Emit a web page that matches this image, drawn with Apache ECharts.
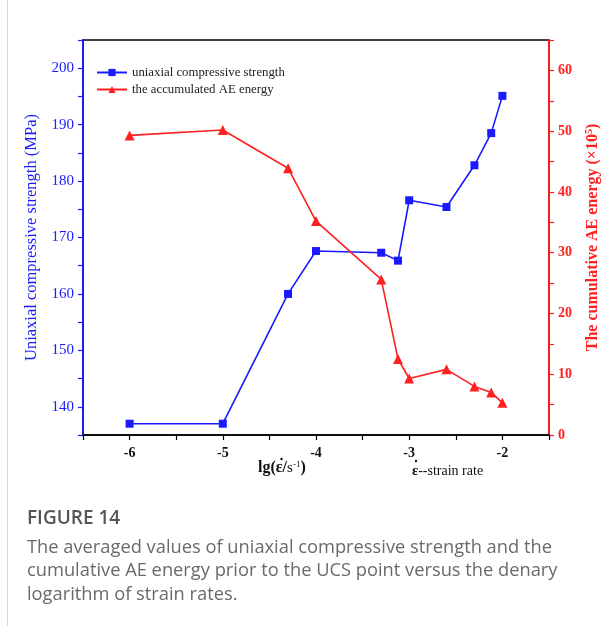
<!DOCTYPE html>
<html>
<head>
<meta charset="utf-8">
<script src="https://cdn.jsdelivr.net/npm/echarts@6/dist/echarts.min.js"></script>
<style>
  html, body { margin: 0; padding: 0; background: #fff; }
  #chart { width: 615px; height: 626px; }
</style>
</head>
<body>
<div id="chart"></div>
<script>
// lg of strain rate (s^-1)
const lgRate = [-6, -5, -4.3, -4, -3.3, -3.12, -3, -2.6, -2.3, -2.12, -2];
// averaged uniaxial compressive strength (MPa)
const ucs = [137.0, 137.0, 160.0, 167.6, 167.3, 165.9, 176.6, 175.4, 182.8, 188.5, 195.1];
// accumulated AE energy before the UCS point (x10^5)
const aeEnergy = [49.3, 50.2, 43.9, 35.2, 25.6, 12.5, 9.3, 10.8, 8.0, 7.0, 5.3];

const xTicks = [-6, -5, -4, -3, -2];
const leftTicks = [140, 150, 160, 170, 180, 190, 200];
const rightTicks = [0, 10, 20, 30, 40, 50, 60];

const BLUE = '#1a1aff';
const RED = '#ff2020';
const SERIF = '"Liberation Serif", "DejaVu Serif", serif';
const SANS = '"Open Sans", "Noto Sans", sans-serif';

const chart = echarts.init(document.getElementById('chart'), null, { renderer: 'canvas' });

const pairs = (ys) => lgRate.map((x, i) => [x, ys[i]]);

chart.setOption({
  animation: false,
  backgroundColor: '#fff',
  grid: {
    left: 83, right: 66, top: 40, bottom: 191,
    show: true, borderColor: '#000', borderWidth: 1.5, backgroundColor: 'transparent'
  },
  legend: {
    orient: 'vertical',
    left: 91, top: 61,
    itemWidth: 30, itemHeight: 9, itemGap: 4,
    textStyle: { fontFamily: SERIF, fontSize: 12.8, color: '#222' },
    data: ['uniaxial compressive strength', 'the accumulated AE energy']
  },
  xAxis: {
    type: 'value',
    min: -6.5, max: -1.5, interval: 0.5,
    axisLine: { show: true, lineStyle: { color: '#000', width: 1.5 } },
    axisTick: { show: true, length: 5, lineStyle: { color: '#000', width: 1.2 } },
    splitLine: { show: false },
    axisLabel: {
      margin: 11,
      fontFamily: SERIF, fontWeight: 'bold', fontSize: 14, color: '#111',
      formatter: (v) => xTicks.includes(v) ? String(v) : ''
    }
  },
  yAxis: [
    {
      type: 'value', position: 'left',
      min: 135, max: 205, interval: 5,
      axisLine: { show: true, lineStyle: { color: BLUE, width: 1.8 } },
      axisTick: { show: true, length: 5, lineStyle: { color: BLUE, width: 1.2 } },
      splitLine: { show: false },
      axisLabel: {
        margin: 9, fontFamily: SERIF, fontSize: 15, color: BLUE,
        formatter: (v) => leftTicks.includes(v) ? String(v) : ''
      },
      name: 'Uniaxial compressive strength (MPa)',
      nameLocation: 'middle', nameGap: 37, nameRotate: 90,
      nameTextStyle: { fontFamily: SERIF, fontSize: 16.5, color: BLUE }
    },
    {
      type: 'value', position: 'right',
      min: 0, max: 65, interval: 5,
      axisLine: { show: true, lineStyle: { color: RED, width: 1.8 } },
      axisTick: { show: true, length: 5, lineStyle: { color: RED, width: 1.2 } },
      splitLine: { show: false },
      axisLabel: {
        margin: 9, fontFamily: SERIF, fontSize: 14, fontWeight: 'bold', color: RED,
        formatter: (v) => rightTicks.includes(v) ? String(v) : ''
      },
      name: 'The cumulative AE energy (×10{sup|5})',
      nameLocation: 'middle', nameGap: 35, nameRotate: 90,
      nameTextStyle: {
        fontFamily: SERIF, fontSize: 16, fontWeight: 'bold', color: RED,
        rich: { sup: { fontFamily: SERIF, fontSize: 10, fontWeight: 'bold', color: RED, verticalAlign: 'top', padding: [0, 0, 8, 0] } }
      }
    }
  ],
  series: [
    {
      name: 'uniaxial compressive strength',
      type: 'line', yAxisIndex: 0,
      data: pairs(ucs),
      symbol: 'rect', symbolSize: 8,
      lineStyle: { color: BLUE, width: 1.6 },
      itemStyle: { color: BLUE }
    },
    {
      name: 'the accumulated AE energy',
      type: 'line', yAxisIndex: 1,
      data: pairs(aeEnergy),
      symbol: 'triangle', symbolSize: 10,
      lineStyle: { color: RED, width: 1.6 },
      itemStyle: { color: RED }
    }
  ],
  graphic: [
    {
      type: 'line', shape: { x1: 7.5, y1: 0, x2: 7.5, y2: 626 },
      style: { stroke: '#d6d6d6', lineWidth: 1 }
    },
    // x-axis title: lg(ε/s^-1) with a rate dot over ε
    {
      type: 'text', left: 258, top: 460,
      style: {
        text: '{b|lg(ε/}{n|s}{s|-1}{b|)}',
        rich: {
          b: { fontFamily: SERIF, fontSize: 16, fontWeight: 'bold', fill: '#111' },
          n: { fontFamily: SERIF, fontSize: 15, fill: '#111' },
          s: { fontFamily: SERIF, fontSize: 9, fill: '#111', verticalAlign: 'top', padding: [0, 0, 6, 0] }
        }
      }
    },
    { type: 'circle', shape: { cx: 281.5, cy: 459, r: 1.2 }, style: { fill: '#111' } },
    {
      type: 'text', left: 412, top: 464,
      style: {
        text: '{b|ε}{n|--strain rate}',
        rich: {
          b: { fontFamily: SERIF, fontSize: 14.5, fontWeight: 'bold', fill: '#111' },
          n: { fontFamily: SERIF, fontSize: 14, fill: '#111' }
        }
      }
    },
    { type: 'circle', shape: { cx: 416, cy: 461, r: 1.2 }, style: { fill: '#111' } },
    {
      type: 'text', left: 27, top: 509,
      style: { text: 'FIGURE 14', fontFamily: SANS, fontSize: 19, fontWeight: 600, fill: '#555' }
    },
    {
      type: 'text', left: 27, top: 536,
      style: {
        text: 'The averaged values of uniaxial compressive strength and the\ncumulative AE energy prior to the UCS point versus the denary\nlogarithm of strain rates.',
        fontFamily: SANS, fontSize: 18.3, lineHeight: 23.5, fill: '#6a6a6a'
      }
    }
  ]
});
</script>
</body>
</html>
